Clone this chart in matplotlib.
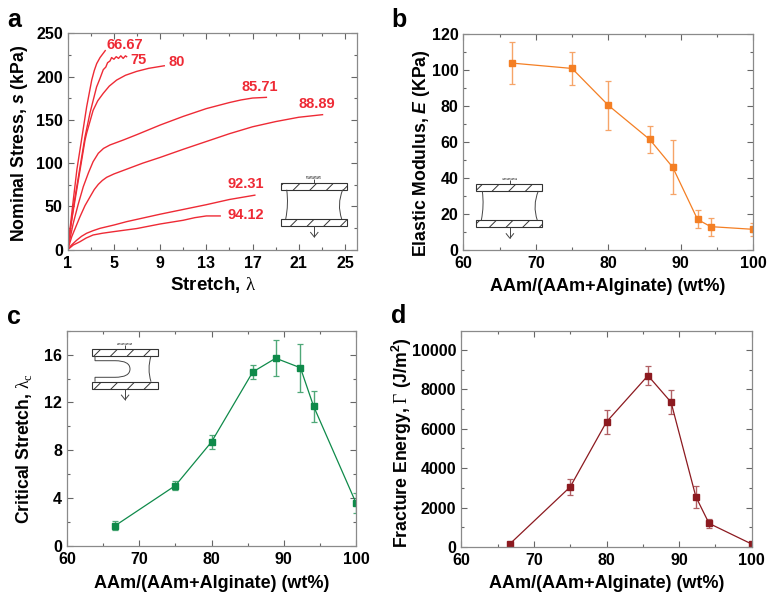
import matplotlib
matplotlib.use('Agg')
from matplotlib import pyplot as plt
from matplotlib.patches import Rectangle, PathPatch
from matplotlib.path import Path
from matplotlib.ticker import MultipleLocator
from matplotlib.transforms import Affine2D

plt.rcParams['font.family'] = ['Liberation Sans', 'DejaVu Sans']
plt.rcParams['font.weight'] = 'bold'
plt.rcParams['axes.labelweight'] = 'bold'
plt.rcParams['mathtext.fontset'] = 'custom'
plt.rcParams['mathtext.rm'] = 'Liberation Sans:bold'
plt.rcParams['mathtext.it'] = 'Liberation Sans:italic:bold'
plt.rcParams['mathtext.sf'] = 'Liberation Serif:normal'
plt.rcParams['hatch.linewidth'] = 0.7

W, H = 774, 603
RED = '#ee2a35'
ORANGE = '#f47f24'
ORANGE_ERR = '#f6a468'
GREEN = '#0f8a4a'
GREEN_ERR = '#4fa878'
DARK = '#8c1a20'
DARK_ERR = '#b06064'

# stress-stretch curves, panel a
x6667 = [1, 1.2, 1.48, 1.8, 2.21, 2.64, 3.08, 3.3, 3.51, 3.8, 4.25]
y6667 = [0, 24, 57, 93, 128, 165, 196, 207, 215, 222, 230]
x75 = [1, 1.2, 1.5, 2, 2.5, 2.93, 3.5, 3.8, 4.08, 4.3, 4.45, 4.66, 4.8, 5, 5.2, 5.4, 5.6, 5.8, 6, 6.1]
y75 = [0, 20, 50, 90, 130.5, 158, 188, 198, 208, 211, 216, 218, 222, 220, 223, 221, 224, 221, 224, 223]
x80 = [1, 1.2, 1.78, 2.5, 2.64, 3.2, 3.6, 4.08, 4.6, 5.24, 6, 6.97, 8, 9.36]
y80 = [0, 22.7, 69, 126.7, 134.6, 161, 172, 180.7, 189, 196, 201.5, 206, 209.5, 212.5]
x8571 = [1, 1.48, 1.9, 2.35, 2.8, 3.2, 3.65, 4.1, 4.66, 5.81, 7, 9, 11, 13, 15, 16, 17, 18.2]
y8571 = [0, 30.5, 52, 72.8, 89, 101.7, 111.4, 117, 121, 126.7, 133, 144, 154, 163, 170, 173, 175.2, 176]
x8889 = [1, 1.35, 2.06, 2.5, 2.93, 3.3, 3.65, 4, 4.37, 5, 6.1, 7.5, 9, 11, 13, 15, 17, 19, 21, 23.06]
y8889 = [0, 15, 38, 51, 61, 69.5, 75.5, 80, 83.6, 87.5, 93, 100, 106.6, 116, 125, 134, 142, 148, 153, 156]
x9231 = [1, 1.3, 1.78, 2.2, 2.64, 3.2, 3.8, 5, 6.1, 9, 11, 13, 15, 17.2]
y9231 = [0, 5, 11, 15.5, 19, 22, 24.7, 28.5, 32.4, 41, 46.5, 52, 58, 63]
x9412 = [1, 1.48, 2.06, 2.6, 3.2, 4, 4.95, 7, 9, 11, 12, 13, 14.2]
y9412 = [0, 5.4, 9.2, 13.5, 17, 19, 20.8, 24.5, 29.7, 34, 37, 39, 39]
curve_labels = ['66.67', '75', '80', '85.71', '88.89', '92.31', '94.12']
label_x = [5.96, 7.17, 10.43, 17.6, 22.6, 16.4, 16.4]
label_y = [237, 219, 217, 188, 168, 76, 40]

# composition sweep, panels b c d
aam = [66.67, 75, 80, 85.71, 88.89, 92.31, 94.12, 100]
modulus = [104, 101, 80.5, 61.5, 46, 17, 13, 11.5]
modulus_err = [11.5, 9, 13.5, 7.5, 15, 5, 5, 3.5]
crit_stretch = [1.7, 5.05, 8.7, 14.55, 15.7, 14.9, 11.7, 3.6]
crit_err = [0.4, 0.4, 0.6, 0.6, 1.5, 2, 1.3, 0.85]
energy = [150, 3050, 6350, 8700, 7350, 2550, 1200, 150]
energy_err = [0, 400, 600, 500, 600, 550, 220, 0]

fig = plt.figure(figsize=(W / 100, H / 100), dpi=100)
to_fig = Affine2D().scale(1 / W, -1 / H).translate(0, 1) + fig.transFigure


def make_axes(left, top, right, bottom, xlim, ylim, xstep, ystep):
    ax = fig.add_axes([left / W, 1 - bottom / H, (right - left) / W, (bottom - top) / H])
    ax.set_xlim(xlim)
    ax.set_ylim(ylim)
    ax.xaxis.set_major_locator(MultipleLocator(xstep, offset=xlim[0] % xstep))
    ax.xaxis.set_minor_locator(MultipleLocator(xstep / 2, offset=xlim[0] % (xstep / 2)))
    ax.yaxis.set_major_locator(MultipleLocator(ystep))
    ax.yaxis.set_minor_locator(MultipleLocator(ystep / 2))
    ax.tick_params(which='both', direction='in', top=True, right=True, color='#666666', width=0.8)
    ax.tick_params(which='major', length=4.5, labelsize=11.5)
    ax.tick_params(axis='x', which='major', pad=4.5)
    ax.tick_params(axis='y', which='major', pad=3.5)
    ax.tick_params(which='minor', length=2.5)
    for s in ax.spines.values():
        s.set_color('#8a8a8a')
        s.set_linewidth(0.9)
    return ax


def set_labels(ax, xlabel, xpos, ylabel, ypos, letter, letter_pos, xsize=13):
    ax.set_xlabel(xlabel, fontsize=xsize, va='center')
    ax.xaxis.set_label_coords(xpos[0] / W, 1 - xpos[1] / H, transform=fig.transFigure)
    ax.set_ylabel(ylabel, fontsize=12.7, va='center')
    ax.yaxis.set_label_coords(ypos[0] / W, 1 - ypos[1] / H, transform=fig.transFigure)
    fig.text(letter_pos[0] / W, 1 - letter_pos[1] / H, letter, fontsize=18, ha='center', va='center')


def draw_sweep(ax, y, err, color, err_color):
    ax.errorbar(aam, y, yerr=err, color=color, lw=0.9, marker='s', ms=5, mec=color,
                ecolor=err_color, elinewidth=1, capsize=2.5, capthick=0.9)


def add_part(patch):
    patch.set_transform(to_fig)
    fig.add_artist(patch)


def plate(x, y, w, h):
    add_part(Rectangle((x, y), w, h, fc='white', ec='#333333', lw=0.8, hatch='//'))


def curve(verts, codes):
    add_part(PathPatch(Path(verts, codes), fc='none', ec='#444444', lw=0.7))


def grips(x, y1, y2):
    # two hatched plates with hanger on top and pull arrow below
    plate(x, y1, 66, 7)
    plate(x, y2, 66, 7)
    mid = x + 33.6
    add_part(Rectangle((mid - 8, y1 - 6.5), 15, 2.5, fc='#c4c4c4', ec='#777777', lw=0, hatch='////////'))
    curve([(mid, y1 - 4), (mid, y1)], [Path.MOVETO, Path.LINETO])
    curve([(mid, y2 + 7), (mid, y2 + 18)], [Path.MOVETO, Path.LINETO])
    curve([(mid - 4, y2 + 13), (mid, y2 + 18), (mid + 4, y2 + 13)],
          [Path.MOVETO, Path.LINETO, Path.LINETO])


def specimen(x, y1, y2):
    grips(x, y1, y2)
    top, bot = y1 + 7, y2
    curve([(x + 6, top), (x + 8, (top + bot) / 2), (x + 5, bot)], [Path.MOVETO, Path.CURVE3, Path.CURVE3])
    curve([(x + 62, top), (x + 56, (top + bot) / 2), (x + 61, bot)], [Path.MOVETO, Path.CURVE3, Path.CURVE3])


# panel a
ax = make_axes(67.7, 33.3, 357.3, 249.7, (1, 26.07), (0, 250), 4, 50)
for xs, ys in [(x6667, y6667), (x75, y75), (x80, y80), (x8571, y8571),
               (x8889, y8889), (x9231, y9231), (x9412, y9412)]:
    ax.plot(xs, ys, color=RED, lw=1)
for t, tx, ty in zip(curve_labels, label_x, label_y):
    ax.text(tx, ty, t, color=RED, fontsize=10.5, ha='center', va='center')
set_labels(ax, 'Stretch, $\\mathsf{λ}$', (213, 285), 'Nominal Stress, $\\mathit{s}$ (kPa)', (20, 143), 'a', (14, 20), xsize=13.5)
specimen(280.7, 182.7, 219)

# panel b
ax = make_axes(463.3, 34.3, 753.3, 250, (60, 100), (0, 120), 10, 20)
draw_sweep(ax, modulus, modulus_err, ORANGE, ORANGE_ERR)
set_labels(ax, 'AAm/(AAm+Alginate) (wt%)', (608, 287), 'Elastic Modulus, $\\mathit{E}$ (KPa)', (421, 153), 'b', (399, 20))
specimen(476.3, 184, 220.3)

# panel c
ax = make_axes(67, 330.7, 356, 546, (60, 100), (0, 18), 10, 4)
draw_sweep(ax, crit_stretch, crit_err, GREEN, GREEN_ERR)
set_labels(ax, 'AAm/(AAm+Alginate) (wt%)', (212, 583),
           'Critical Stretch, $\\mathsf{λ}_{\\mathsf{c}}$', (24, 448), 'c', (14, 317))
grips(91.5, 349.3, 381.7)
curve([(95, 356), (95, 360.7), (115, 360.7), (130, 360.7), (130, 369), (130, 377.3), (115, 377.3), (95, 377.3), (95, 381.7)],
      [Path.MOVETO, Path.LINETO, Path.LINETO, Path.CURVE3, Path.CURVE3, Path.CURVE3, Path.CURVE3, Path.LINETO, Path.LINETO])
curve([(151, 356), (147, 369), (151, 381.7)], [Path.MOVETO, Path.CURVE3, Path.CURVE3])

# panel d
ax = make_axes(461.3, 331, 751.7, 547, (60, 100), (0, 10964), 10, 2000)
draw_sweep(ax, energy, energy_err, DARK, DARK_ERR)
set_labels(ax, 'AAm/(AAm+Alginate) (wt%)', (607, 583),
           'Fracture Energy, $\\mathsf{Γ}$ (J/m$^{\\mathrm{2}}$)', (402, 443), 'd', (399, 316))

fig.savefig('out.png', dpi=100)
